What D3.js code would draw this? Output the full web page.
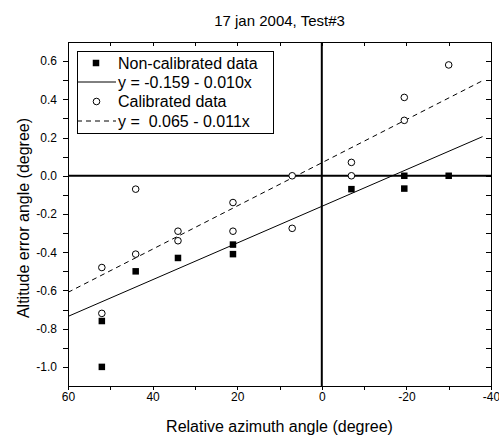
<!DOCTYPE html>
<meta charset="utf-8">
<style>
  body { margin: 0; background: #fff; }
  svg { font-family: Arial, "Liberation Sans", sans-serif; }
  .axis path, .axis line { stroke: #000; shape-rendering: crispEdges; }
  .axis text { fill: #000; font-size: 12px; font-family: Arial, "Liberation Sans", sans-serif; }
</style>
<body></body>
<script src="https://cdn.jsdelivr.net/npm/d3@7"></script>
<script>
  const width = 499
  const height = 437

  // non-calibrated data (filled squares)
  const nonCalX = [52, 52, 44, 34, 21, 21, -7, -19.5, -19.5, -30]
  const nonCalY = [-0.76, -1.0, -0.5, -0.43, -0.36, -0.41, -0.07, 0, -0.067, 0]

  // calibrated data (open circles)
  const calX = [52, 52, 44, 44, 34, 34, 21, 21, 7, 7, -7, -7, -19.5, -19.5, -30]
  const calY = [-0.48, -0.72, -0.07, -0.41, -0.29, -0.34, -0.14, -0.29, 0, -0.275, 0.07, 0, 0.41, 0.29, 0.58]

  // linear fits as drawn (intercept, slope) and the x span they cover
  const fitIntercepts = [-0.160, 0.068]
  const fitSlopes = [-0.0096, -0.0113]
  const fitSpan = [60, -38]

  const legendLabels = ["Non-calibrated data", "y = -0.159 - 0.010x", "Calibrated data", "y =  0.065 - 0.011x"]

  const margin = { top: 42, right: 8, bottom: 51, left: 68 }
  const innerW = width - margin.left - margin.right
  const innerH = height - margin.top - margin.bottom

  const x = d3.scaleLinear().domain([60, -40]).range([0, innerW])
  const y = d3.scaleLinear().domain([-1.1, 0.7]).range([innerH, 0])

  const svg = d3.select("body").append("svg")
    .attr("width", width)
    .attr("height", height)

  const g = svg.append("g")
    .attr("transform", `translate(${margin.left},${margin.top})`)

  const xTicks = d3.range(60, -41, -10)
  const yTicks = d3.range(-10, 7).map(n => n / 10)

  const xFmt = d => (Math.round(d) % 20 === 0 ? String(Math.round(d)) : "")
  const yFmt = d => {
    const n = Math.round(d * 10)
    return n % 2 === 0 ? (n / 10).toFixed(1) : ""
  }

  // axes: bottom/left ticks outward, top/right inward
  g.append("g").attr("class", "axis")
    .attr("transform", `translate(0,${innerH})`)
    .call(d3.axisBottom(x).tickValues(xTicks).tickFormat(xFmt).tickSizeInner(4).tickSizeOuter(0).tickPadding(2))

  g.append("g").attr("class", "axis")
    .call(d3.axisTop(x).tickValues(xTicks).tickFormat("").tickSizeInner(-4).tickSizeOuter(0))

  g.append("g").attr("class", "axis")
    .call(d3.axisLeft(y).tickValues(yTicks).tickFormat(yFmt).tickSizeInner(5).tickSizeOuter(0).tickPadding(6))

  g.append("g").attr("class", "axis")
    .attr("transform", `translate(${innerW},0)`)
    .call(d3.axisRight(y).tickValues(yTicks).tickFormat("").tickSizeInner(-5).tickSizeOuter(0))

  // zero lines
  g.append("line")
    .attr("x1", 0).attr("x2", innerW)
    .attr("y1", y(0)).attr("y2", y(0))
    .attr("stroke", "#000").attr("stroke-width", 2)
  g.append("line")
    .attr("x1", x(0)).attr("x2", x(0))
    .attr("y1", 0).attr("y2", innerH)
    .attr("stroke", "#000").attr("stroke-width", 2)

  // fit lines
  const fitLine = d3.line().x(d => x(d[0])).y(d => y(d[1]))
  fitIntercepts.forEach((b, i) => {
    g.append("path")
      .datum(fitSpan.map(v => [v, b + fitSlopes[i] * v]))
      .attr("d", fitLine)
      .attr("fill", "none")
      .attr("stroke", "#000")
      .attr("stroke-width", 1)
      .attr("stroke-dasharray", i === 1 ? "5,4" : null)
  })

  // points
  const sq = 6.5
  g.selectAll("rect.noncal")
    .data(nonCalX.map((v, i) => [v, nonCalY[i]]))
    .enter().append("rect")
    .attr("class", "noncal")
    .attr("x", d => x(d[0]) - sq / 2)
    .attr("y", d => y(d[1]) - sq / 2)
    .attr("width", sq).attr("height", sq)
    .attr("fill", "#000")

  g.selectAll("circle.cal")
    .data(calX.map((v, i) => [v, calY[i]]))
    .enter().append("circle")
    .attr("class", "cal")
    .attr("cx", d => x(d[0]))
    .attr("cy", d => y(d[1]))
    .attr("r", 3.3)
    .attr("fill", "#fff")
    .attr("stroke", "#000")
    .attr("stroke-width", 1)

  // legend
  const lg = svg.append("g").attr("transform", "translate(77,51)")
  lg.append("rect")
    .attr("width", 196).attr("height", 82)
    .attr("fill", "#fff").attr("stroke", "#000").attr("stroke-width", 1)
    .attr("shape-rendering", "crispEdges")

  const rowY = [12, 31, 50.5, 70]
  lg.append("rect").attr("x", 19 - sq / 2).attr("y", rowY[0] - sq / 2)
    .attr("width", sq).attr("height", sq).attr("fill", "#000")
  lg.append("line").attr("x1", 0).attr("x2", 39).attr("y1", rowY[1]).attr("y2", rowY[1])
    .attr("stroke", "#000")
  lg.append("circle").attr("cx", 19.5).attr("cy", rowY[2]).attr("r", 3.3)
    .attr("fill", "#fff").attr("stroke", "#000")
  lg.append("line").attr("x1", 0).attr("x2", 39).attr("y1", rowY[3]).attr("y2", rowY[3])
    .attr("stroke", "#000").attr("stroke-dasharray", "5,4")

  lg.selectAll("text")
    .data(legendLabels)
    .enter().append("text")
    .attr("x", 41)
    .attr("y", (d, i) => rowY[i] + 5.5)
    .attr("font-size", 16)
    .attr("xml:space", "preserve")
    .style("white-space", "pre")
    .text(d => d)

  // titles
  svg.append("text")
    .attr("x", 279.5).attr("y", 26)
    .attr("text-anchor", "middle")
    .attr("font-size", 15)
    .text("17 jan 2004, Test#3")

  svg.append("text")
    .attr("x", margin.left + innerW / 2).attr("y", 432)
    .attr("text-anchor", "middle")
    .attr("font-size", 16)
    .text("Relative azimuth angle (degree)")

  svg.append("text")
    .attr("transform", "translate(29,218) rotate(-90)")
    .attr("text-anchor", "middle")
    .attr("font-size", 16)
    .text("Altitude error angle (degree)")
</script>
